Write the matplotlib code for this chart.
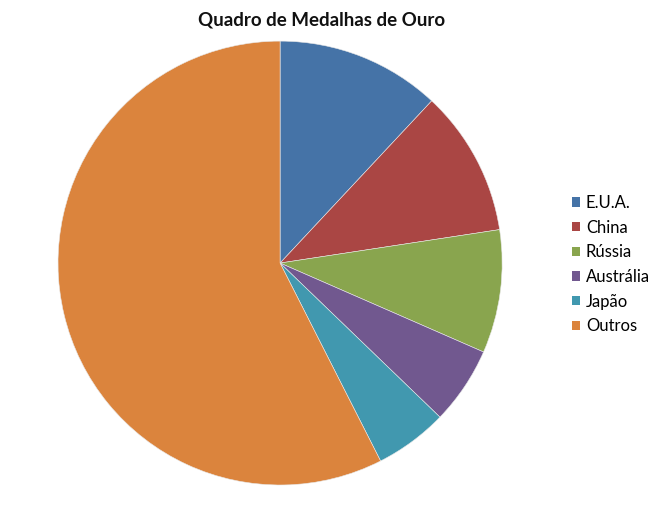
import matplotlib
matplotlib.use('Agg')
import matplotlib.pyplot as plt
from matplotlib.patches import Patch

plt.rcParams['font.family'] = ['Lato', 'DejaVu Sans']

# gold medals (Athens 2004)
paises = ['E.U.A.', 'China', 'Rússia', 'Austrália', 'Japão', 'Outros']
ouros = [36, 32, 27, 17, 16, 173]
cores = ['#4573A7', '#AA4644', '#89A54E', '#71588F', '#4198AF', '#DB843D']

fig = plt.figure(figsize=(6.57, 5.05), dpi=100)
ax = fig.add_axes([0.0883, 0.0396, 0.676, 0.879])
ax.pie(ouros, colors=cores, startangle=90, counterclock=False,
       wedgeprops=dict(edgecolor='#e8e8e8', linewidth=0.4))
ax.set_aspect('auto')
ax.set_xlim(-1, 1)
ax.set_ylim(-1, 1)

fig.text(0.49, 0.96, 'Quadro de Medalhas de Ouro', ha='center', va='center',
         fontsize=13.5, fontweight='bold', color='#111111')

handles = [Patch(facecolor=c, edgecolor='none') for c in cores]
fig.legend(handles, paises, loc='center left', bbox_to_anchor=(0.870, 0.476),
           frameon=False, fontsize=12, handlelength=0.5, handleheight=0.5,
           handletextpad=0.35, labelspacing=0.52, borderpad=0, borderaxespad=0)

fig.savefig('out.png', dpi=100)
